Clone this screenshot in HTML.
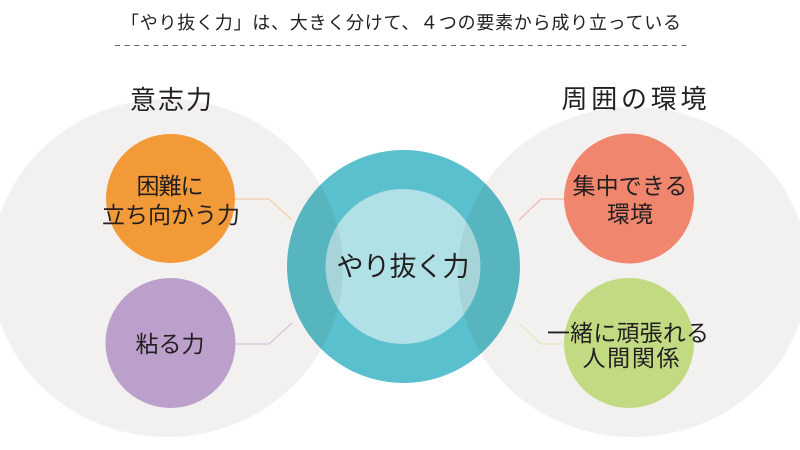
<!DOCTYPE html>
<html>
<head>
<meta charset="utf-8">
<style>
html,body{margin:0;padding:0;background:#fff;}
body{width:800px;height:450px;overflow:hidden;}
svg{display:block;}
text{font-family:"Liberation Sans","Noto Sans CJK JP",sans-serif;fill:#231f20;}
</style>
</head>
<body>
<svg width="800" height="450" viewBox="0 0 800 450" xmlns="http://www.w3.org/2000/svg">
  <rect width="800" height="450" fill="#ffffff"/>

  <!-- title -->
  <text x="401" y="23" font-size="18" text-anchor="middle" dominant-baseline="central" textLength="560" lengthAdjust="spacing">「やり抜く力」は、大きく分けて、４つの要素から成り立っている</text>
  <line x1="115" y1="45.5" x2="690" y2="45.5" stroke="#666" stroke-width="1" stroke-dasharray="5 4.6"/>

  <!-- big grey groups -->
  <ellipse cx="167" cy="268" rx="176" ry="169" fill="#f2f1ef"/>
  <ellipse cx="633" cy="272" rx="175" ry="165" fill="#f2f1ef"/>

  <!-- group labels -->
  <text x="171" y="100" font-size="26" text-anchor="middle" dominant-baseline="central" textLength="82" lengthAdjust="spacing">意志力</text>
  <text x="634" y="99" font-size="26" text-anchor="middle" dominant-baseline="central" textLength="145" lengthAdjust="spacing">周囲の環境</text>

  <!-- connectors -->
  <polyline points="235,199 269,199 292,220" fill="none" stroke="#f3c496" stroke-width="1"/>
  <polyline points="235,344 269,344 292,323" fill="none" stroke="#cdb9da" stroke-width="1"/>
  <polyline points="564,199 541,199 519,220" fill="none" stroke="#f2ad9e" stroke-width="1"/>
  <polyline points="564,344 541,344 519,323" fill="none" stroke="#dbe6b0" stroke-width="1"/>

  <!-- small circles -->
  <circle cx="170.5" cy="198.5" r="64.5" fill="#f39a38"/>
  <circle cx="170.5" cy="343" r="65" fill="#bca0cc"/>
  <circle cx="629" cy="198.5" r="65" fill="#f0866e"/>
  <circle cx="629" cy="343" r="65" fill="#c2da82"/>

  <!-- center -->
  <g style="mix-blend-mode:multiply">
    <circle cx="403.5" cy="266.5" r="116.5" fill="#5bc0cd"/>
    <circle cx="403" cy="266.5" r="77.5" fill="#b0e1e7"/>
  </g>

  <!-- node texts -->
  <text x="170" y="186" font-size="23" text-anchor="middle" dominant-baseline="central" textLength="67" lengthAdjust="spacing">困難に</text>
  <text x="171" y="215" font-size="23" text-anchor="middle" dominant-baseline="central" textLength="138" lengthAdjust="spacing">立ち向かう力</text>
  <text x="170" y="344" font-size="23" text-anchor="middle" dominant-baseline="central" textLength="69" lengthAdjust="spacing">粘る力</text>

  <text x="630" y="186" font-size="23" text-anchor="middle" dominant-baseline="central" textLength="115" lengthAdjust="spacing">集中できる</text>
  <text x="630" y="214" font-size="23" text-anchor="middle" dominant-baseline="central" textLength="46" lengthAdjust="spacing">環境</text>
  <text x="628" y="333" font-size="23" text-anchor="middle" dominant-baseline="central" textLength="162" lengthAdjust="spacing">一緒に頑張れる</text>
  <text x="631" y="358" font-size="23" text-anchor="middle" dominant-baseline="central" textLength="97" lengthAdjust="spacing">人間関係</text>

  <text x="403" y="267" font-size="27" text-anchor="middle" dominant-baseline="central" textLength="133" lengthAdjust="spacing">やり抜く力</text>
</svg>
</body>
</html>
